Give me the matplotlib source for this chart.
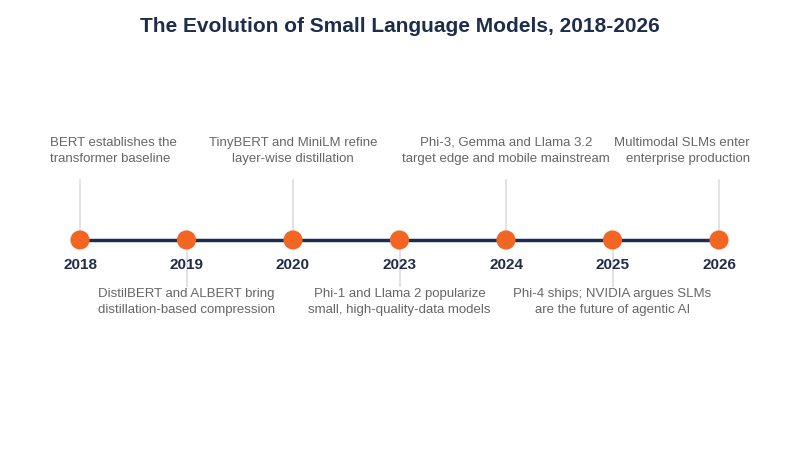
import matplotlib
matplotlib.use("Agg")
import matplotlib.pyplot as plt

years = ["2018", "2019", "2020", "2023", "2024", "2025", "2026"]
events = [
    "BERT establishes the\ntransformer baseline",
    "DistilBERT and ALBERT bring\ndistillation-based compression",
    "TinyBERT and MiniLM refine\nlayer-wise distillation",
    "Phi-1 and Llama 2 popularize\nsmall, high-quality-data models",
    "Phi-3, Gemma and Llama 3.2\ntarget edge and mobile mainstream",
    "Phi-4 ships; NVIDIA argues SLMs\nare the future of agentic AI",
    "Multimodal SLMs enter\nenterprise production",
]
positions = list(range(len(years)))

plt.rcParams['font.family'] = ['Liberation Sans', 'DejaVu Sans']
fig = plt.figure(figsize=(8, 4.5), dpi=100)
ax = fig.add_axes([0, 0, 1, 1])
step = (719 - 80) / 6
ax.set_xlim(-80 / step, (800 - 80) / step)
ax.set_ylim(450, 0)
ax.axis('off')

navy = '#1f2d4d'
orange = '#f26522'
gray = '#666666'

fig.text(0.5, 1 - 27 / 450, "The Evolution of Small Language Models, 2018-2026",
         ha='center', va='center', fontsize=15, fontweight='bold', color=navy)

ax.plot([positions[0], positions[-1]], [240, 240], color=navy, lw=2.5, zorder=2)
for i, (x, yr, ev) in enumerate(zip(positions, years, events)):
    up = i % 2 == 0
    if up:
        ax.plot([x, x], [180, 240], color='#dddddd', lw=1.2, zorder=1)
    else:
        ax.plot([x, x], [240, 290], color='#dddddd', lw=1.2, zorder=1)
    ax.scatter([x], [240], s=190, color=orange, zorder=3, edgecolors='none')
    ax.text(x, 265, yr, ha='center', va='center', fontsize=11, fontweight='bold', color=navy)
    if i == 0:
        ha, dx = 'left', -30 / step
    elif i == len(years) - 1:
        ha, dx = 'right', 31 / step
    else:
        ha, dx = 'center', 0
    y = 151 if up else 302
    ax.text(x + dx, y, ev, ha=ha, va='center', fontsize=9.5, color=gray,
            linespacing=1.45, multialignment=ha,
            bbox=None if up else dict(facecolor='white', edgecolor='none', pad=1))

fig.savefig("out.png", dpi=100, facecolor='white')
